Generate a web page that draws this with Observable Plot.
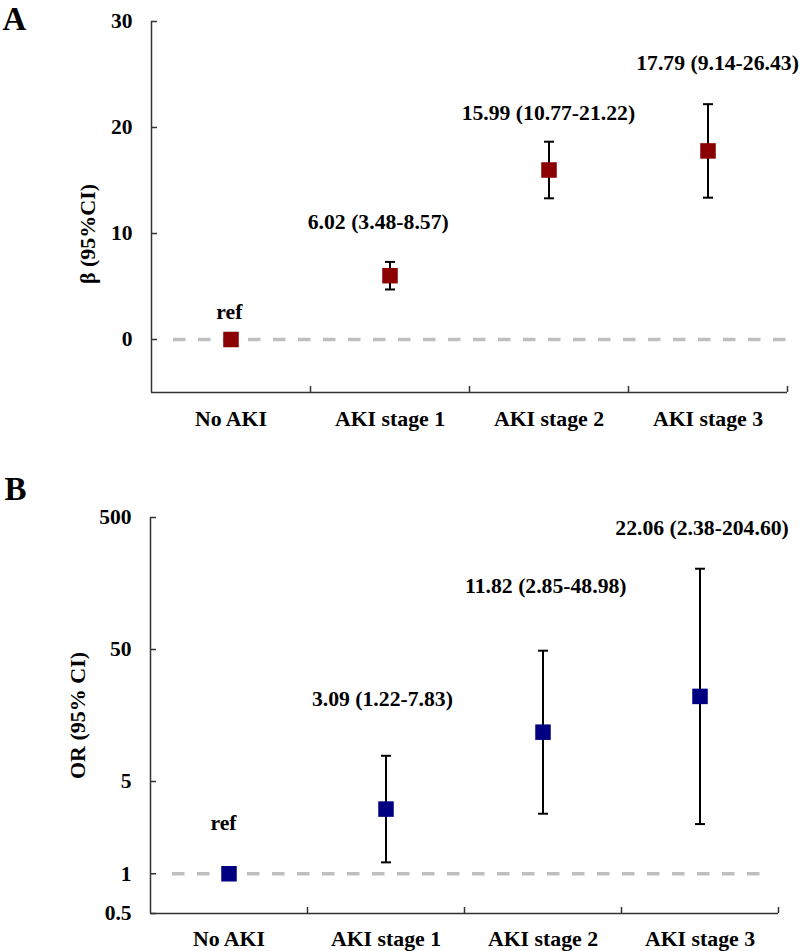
<!DOCTYPE html>
<html>
<head>
<meta charset="utf-8">
<script src="https://cdn.jsdelivr.net/npm/d3@7"></script>
<script src="https://cdn.jsdelivr.net/npm/@observablehq/plot@0.6"></script>
<style>
  html, body { margin: 0; padding: 0; background: #fff; }
  #chart svg { display: block; overflow: visible; }
</style>
</head>
<body>
<div id="chart"></div>
<script>
// ---- data ----
const categories = ["No AKI", "AKI stage 1", "AKI stage 2", "AKI stage 3"];

// Panel A: beta
const betaEst = [0, 6.02, 15.99, 17.79];
const betaBarLo = [null, 4.72, 13.32, 13.38];
const betaBarHi = [null, 7.32, 18.66, 22.20];
const betaLabels = ["ref", "6.02 (3.48-8.57)", "15.99 (10.77-21.22)", "17.79 (9.14-26.43)"];
const betaLabelAtY = [2.55, 11.1, 21.4, 26.1];
const betaLabelAtX = [0.49, 1.426, 2.496, 3.56];
const betaTicks = [0, 10, 20, 30];

// Panel B: OR
const orEst = [1, 3.09, 11.82, 22.06];
const orLo = [null, 1.22, 2.85, 2.38];
const orHi = [null, 7.83, 48.98, 204.60];
const orLabels = ["ref", "3.09 (1.22-7.83)", "11.82 (2.85-48.98)", "22.06 (2.38-204.60)"];
const orLabelAtY = [2.44, 21.0, 150, 414];
const orLabelAtX = [0.465, 1.477, 2.518, 3.513];
const orTicks = [0.5, 1, 5, 50, 500];

// ---- helpers ----
const catCenters = categories.map((c, i) => i + 0.5);
const catBounds = categories.map((c, i) => i + 1);
const capSymbol = {
  draw(context, size) {
    const w = Math.sqrt(size / Math.PI);
    context.moveTo(-w, 0);
    context.lineTo(w, 0);
  }
};
const FONT = "'Liberation Serif', 'Times New Roman', serif";

function rowsOf(est, lo, hi, labels, lx, ly) {
  return categories.map((c, i) => ({
    cat: c, pos: i + 0.5, est: est[i], lo: lo[i], hi: hi[i],
    label: labels[i], lx: lx[i], ly: ly[i]
  }));
}

function panel(opts) {
  const rows = rowsOf(opts.est, opts.lo, opts.hi, opts.labels, opts.lx, opts.ly);
  const bars = rows.filter(d => d.lo != null);
  return Plot.plot({
    width: 800,
    height: opts.height,
    marginTop: opts.marginTop,
    marginBottom: opts.marginBottom,
    marginLeft: opts.marginLeft,
    marginRight: opts.marginRight,
    style: { fontFamily: FONT, fontWeight: "bold", fontSize: "21px", color: "#000", background: "#fff", overflow: "visible" },
    x: { type: "linear", domain: [0, categories.length] },
    y: opts.yScale,
    marks: [
      // reference dashed line
      Plot.ruleY([opts.refValue], {
        stroke: "#bfbfbf", strokeWidth: 3.5, strokeDasharray: "12.5,12.5",
        insetLeft: 22, insetRight: opts.refInsetRight
      }),
      // axis lines
      Plot.ruleX([0], { stroke: "#333", strokeWidth: 1.5 }),
      Plot.ruleY([opts.yScale.domain[0]], { stroke: "#333", strokeWidth: 1.5 }),
      // y axis ticks (pointing inward)
      Plot.axisY({
        ticks: opts.yTicks, tickFormat: () => "", tickSize: -6,
        stroke: "#333", strokeWidth: 1.5, label: null
      }),
      // y tick labels
      Plot.text(opts.yTicks, {
        y: d => d, text: d => String(d), frameAnchor: "left", textAnchor: "end",
        dx: -19, fontSize: 21.5, fontWeight: "bold", fill: "#000"
      }),
      // x boundary ticks (inward)
      Plot.axisX({
        ticks: catBounds, tickFormat: () => "", tickSize: -6, stroke: "#333", strokeWidth: 1.5, label: null
      }),
      // x category labels
      Plot.axisX({
        ticks: catCenters, tickFormat: d => categories[Math.floor(d)], tickSize: 0,
        tickPadding: opts.xPad, label: null, fontSize: 21.8, fill: "#000"
      }),
      // y title
      Plot.text([opts.yTitle], {
        frameAnchor: "left", rotate: -90, textAnchor: "middle", lineAnchor: "middle",
        dx: opts.titleDx, dy: opts.titleDy,
        fontSize: 22, fontWeight: "bold", fill: "#000"
      }),
      // panel letter
      Plot.text([opts.letter], {
        frameAnchor: "top-left", dx: opts.letterDx, dy: opts.letterDy,
        textAnchor: "start", lineAnchor: "bottom", fontSize: 33, fontWeight: "bold", fill: "#000"
      }),
      // error bars
      Plot.ruleX(bars, { x: "pos", y1: "lo", y2: "hi", stroke: "#000", strokeWidth: 2 }),
      Plot.dot(bars, { x: "pos", y: "lo", symbol: capSymbol, r: 5, stroke: "#000", strokeWidth: 2, fill: "none" }),
      Plot.dot(bars, { x: "pos", y: "hi", symbol: capSymbol, r: 5, stroke: "#000", strokeWidth: 2, fill: "none" }),
      // estimates
      Plot.dot(rows, { x: "pos", y: "est", symbol: "square", r: 8.75, fill: opts.color, stroke: "none" }),
      // value labels
      Plot.text(rows, { x: "lx", y: "ly", text: "label", fontSize: 21.7, fontWeight: "bold", fill: "#000" })
    ]
  });
}

const chart = document.getElementById("chart");

chart.appendChild(panel({
  height: 465, marginTop: 21, marginBottom: 73, marginLeft: 151, marginRight: 13,
  yScale: { type: "linear", domain: [-5, 30] },
  yTicks: betaTicks, refValue: 0, refInsetRight: 0,
  est: betaEst, lo: betaBarLo, hi: betaBarHi, labels: betaLabels, lx: betaLabelAtX, ly: betaLabelAtY,
  color: "#8b0000", yTitle: "β (95%CI)", titleDx: -64, titleDy: 27,
  letter: "A", letterDx: -149, letterDy: 8, xPad: 18
}));

chart.appendChild(panel({
  height: 486, marginTop: 52, marginBottom: 38, marginLeft: 150, marginRight: 22,
  yScale: { type: "log", domain: [0.5, 500] },
  yTicks: orTicks, refValue: 1, refInsetRight: 10,
  est: orEst, lo: orLo, hi: orHi, labels: orLabels, lx: orLabelAtX, ly: orLabelAtY,
  color: "#000080", yTitle: "OR (95% CI)", titleDx: -73, titleDy: 0,
  letter: "B", letterDx: -146, letterDy: -18, xPad: 17
}));
</script>
</body>
</html>
